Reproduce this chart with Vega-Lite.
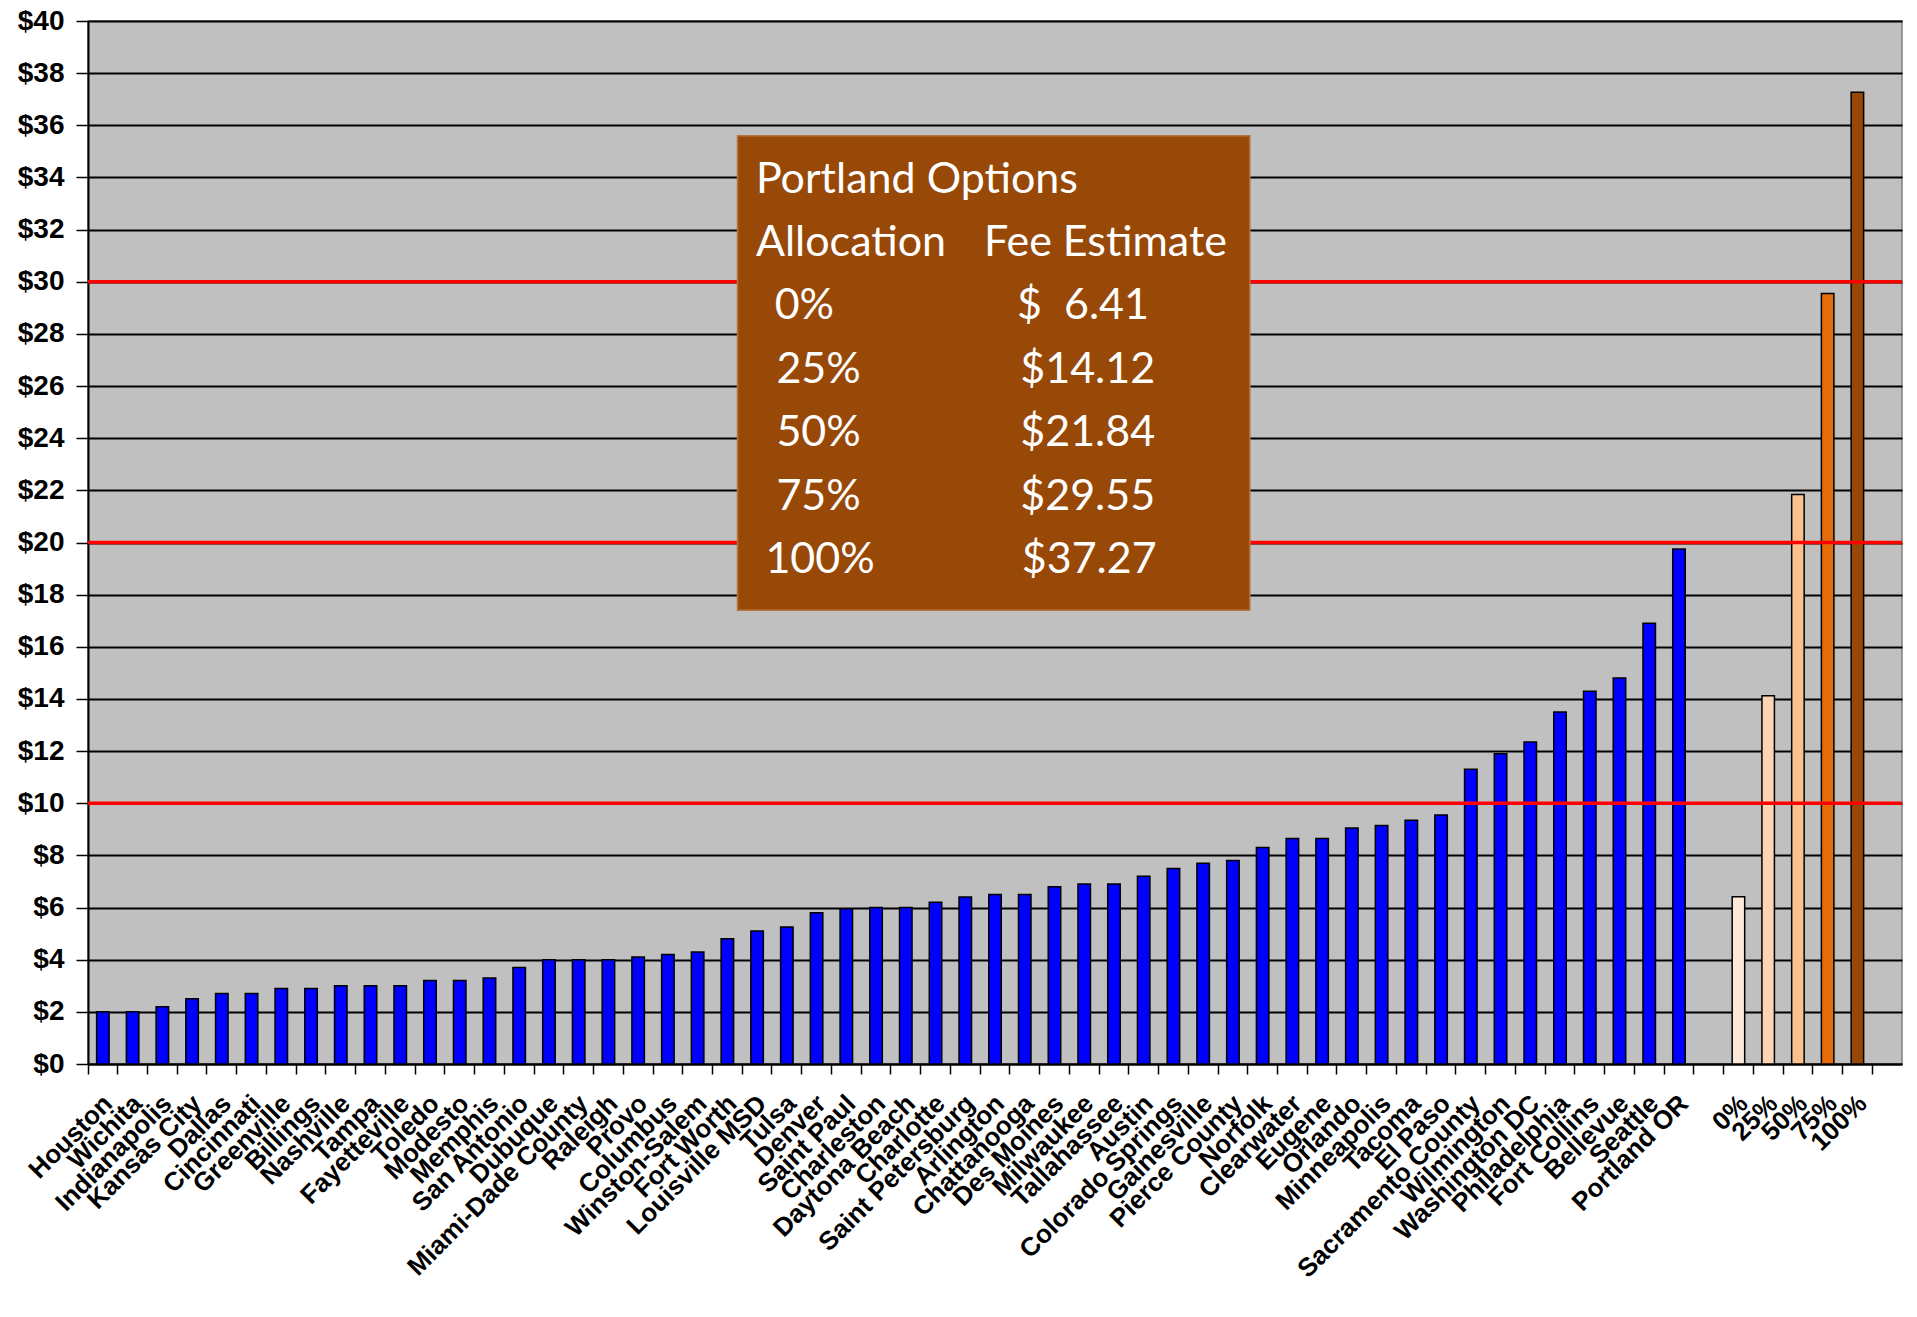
{
  "$schema": "https://vega.github.io/schema/vega-lite/v6.json",
  "width": 1814,
  "height": 1043,
  "autosize": {"type": "none"},
  "padding": {"left": 88, "top": 21, "right": 15, "bottom": 253},
  "background": "white",
  "config": {"view": {"fill": "#C0C0C0", "stroke": "#808080", "strokeWidth": 1.5}},
  "datasets": {
    "fees": [
      {"place": "Houston", "fee": 2.0, "series": "City"},
      {"place": "Wichita", "fee": 2.0, "series": "City"},
      {"place": "Indianapolis", "fee": 2.2, "series": "City"},
      {"place": "Kansas City", "fee": 2.5, "series": "City"},
      {"place": "Dallas", "fee": 2.7, "series": "City"},
      {"place": "Cincinnati", "fee": 2.7, "series": "City"},
      {"place": "Greenville", "fee": 2.9, "series": "City"},
      {"place": "Billings", "fee": 2.9, "series": "City"},
      {"place": "Nashville", "fee": 3.0, "series": "City"},
      {"place": "Tampa", "fee": 3.0, "series": "City"},
      {"place": "Fayetteville", "fee": 3.0, "series": "City"},
      {"place": "Toledo", "fee": 3.2, "series": "City"},
      {"place": "Modesto", "fee": 3.2, "series": "City"},
      {"place": "Memphis", "fee": 3.3, "series": "City"},
      {"place": "San Antonio", "fee": 3.7, "series": "City"},
      {"place": "Dubuque", "fee": 4.0, "series": "City"},
      {"place": "Miami-Dade County", "fee": 4.0, "series": "City"},
      {"place": "Raleigh", "fee": 4.0, "series": "City"},
      {"place": "Provo", "fee": 4.1, "series": "City"},
      {"place": "Columbus", "fee": 4.2, "series": "City"},
      {"place": "Winston-Salem", "fee": 4.3, "series": "City"},
      {"place": "Fort Worth", "fee": 4.8, "series": "City"},
      {"place": "Louisville MSD", "fee": 5.1, "series": "City"},
      {"place": "Tulsa", "fee": 5.25, "series": "City"},
      {"place": "Denver", "fee": 5.8, "series": "City"},
      {"place": "Saint Paul", "fee": 5.95, "series": "City"},
      {"place": "Charleston", "fee": 6.0, "series": "City"},
      {"place": "Daytona Beach", "fee": 6.0, "series": "City"},
      {"place": "Charlotte", "fee": 6.2, "series": "City"},
      {"place": "Saint Petersburg", "fee": 6.4, "series": "City"},
      {"place": "Arlington", "fee": 6.5, "series": "City"},
      {"place": "Chattanooga", "fee": 6.5, "series": "City"},
      {"place": "Des Moines", "fee": 6.8, "series": "City"},
      {"place": "Milwaukee", "fee": 6.9, "series": "City"},
      {"place": "Tallahassee", "fee": 6.9, "series": "City"},
      {"place": "Austin", "fee": 7.2, "series": "City"},
      {"place": "Colorado Springs", "fee": 7.5, "series": "City"},
      {"place": "Gainesville", "fee": 7.7, "series": "City"},
      {"place": "Pierce County", "fee": 7.8, "series": "City"},
      {"place": "Norfolk", "fee": 8.3, "series": "City"},
      {"place": "Clearwater", "fee": 8.65, "series": "City"},
      {"place": "Eugene", "fee": 8.65, "series": "City"},
      {"place": "Orlando", "fee": 9.05, "series": "City"},
      {"place": "Minneapolis", "fee": 9.15, "series": "City"},
      {"place": "Tacoma", "fee": 9.35, "series": "City"},
      {"place": "El Paso", "fee": 9.55, "series": "City"},
      {"place": "Sacramento County", "fee": 11.3, "series": "City"},
      {"place": "Wilmington", "fee": 11.9, "series": "City"},
      {"place": "Washington DC", "fee": 12.35, "series": "City"},
      {"place": "Philadelphia", "fee": 13.5, "series": "City"},
      {"place": "Fort Collins", "fee": 14.3, "series": "City"},
      {"place": "Bellevue", "fee": 14.8, "series": "City"},
      {"place": "Seattle", "fee": 16.9, "series": "City"},
      {"place": "Portland OR", "fee": 19.75, "series": "City"},
      {"place": "0%", "fee": 6.41, "series": "0%"},
      {"place": "25%", "fee": 14.12, "series": "25%"},
      {"place": "50%", "fee": 21.84, "series": "50%"},
      {"place": "75%", "fee": 29.55, "series": "75%"},
      {"place": "100%", "fee": 37.27, "series": "100%"}
    ],
    "thresholds": [{"level": 10}, {"level": 20}, {"level": 30}],
    "box": [{"x0": 21.84, "x1": 39.07, "y0": 17.4, "y1": 35.6}],
    "boxText": [
      {"label": "Portland Options", "x": 22.46, "y": 33.9},
      {"label": "Allocation", "x": 22.46, "y": 31.47},
      {"label": "Fee Estimate", "x": 30.13, "y": 31.47},
      {"label": "0%", "x": 23.09, "y": 29.07},
      {"label": "$\u00a0\u00a06.41", "x": 31.24, "y": 29.07},
      {"label": "25%", "x": 23.15, "y": 26.63},
      {"label": "$14.12", "x": 31.35, "y": 26.63},
      {"label": "50%", "x": 23.15, "y": 24.2},
      {"label": "$21.84", "x": 31.35, "y": 24.2},
      {"label": "75%", "x": 23.15, "y": 21.76},
      {"label": "$29.55", "x": 31.35, "y": 21.76},
      {"label": "100%", "x": 22.78, "y": 19.32},
      {"label": "$37.27", "x": 31.4, "y": 19.32}
    ]
  },
  "layer": [
    {
      "data": {"name": "fees"},
      "mark": {"type": "bar", "stroke": "black", "strokeWidth": 1.5},
      "encoding": {
        "x": {
          "field": "place",
          "type": "nominal",
          "sort": null,
          "scale": {
            "domain": ["Houston", "Wichita", "Indianapolis", "Kansas City", "Dallas", "Cincinnati", "Greenville", "Billings", "Nashville", "Tampa", "Fayetteville", "Toledo", "Modesto", "Memphis", "San Antonio", "Dubuque", "Miami-Dade County", "Raleigh", "Provo", "Columbus", "Winston-Salem", "Fort Worth", "Louisville MSD", "Tulsa", "Denver", "Saint Paul", "Charleston", "Daytona Beach", "Charlotte", "Saint Petersburg", "Arlington", "Chattanooga", "Des Moines", "Milwaukee", "Tallahassee", "Austin", "Colorado Springs", "Gainesville", "Pierce County", "Norfolk", "Clearwater", "Eugene", "Orlando", "Minneapolis", "Tacoma", "El Paso", "Sacramento County", "Wilmington", "Washington DC", "Philadelphia", "Fort Collins", "Bellevue", "Seattle", "Portland OR", " ", "0%", "25%", "50%", "75%", "100%", "  "],
            "paddingInner": 0.58,
            "paddingOuter": 0.29
          },
          "axis": {
            "title": null,
            "labelAngle": -45,
            "labelFont": "Liberation Sans",
            "labelFontWeight": "bold",
            "labelFontSize": 26,
            "labelColor": "black",
            "labelPadding": 16,
            "labelOffset": -4,
            "labelLimit": 0,
            "labelOverlap": false,
            "labelBound": false,
            "domainColor": "black",
            "domainWidth": 2,
            "tickColor": "black",
            "tickWidth": 1.5,
            "tickSize": 10,
            "bandPosition": -0.69,
            "grid": false
          }
        },
        "y": {
          "field": "fee",
          "type": "quantitative",
          "scale": {"domain": [0, 40], "nice": false},
          "axis": {
            "title": null,
            "values": [0, 2, 4, 6, 8, 10, 12, 14, 16, 18, 20, 22, 24, 26, 28, 30, 32, 34, 36, 38, 40],
            "labelExpr": "'$' + datum.value",
            "labelFont": "Liberation Sans",
            "labelFontWeight": "bold",
            "labelFontSize": 28,
            "labelColor": "black",
            "labelPadding": 12,
            "domainColor": "black",
            "domainWidth": 2,
            "tickColor": "black",
            "tickWidth": 1.5,
            "tickSize": 12,
            "grid": true,
            "gridColor": "black",
            "gridWidth": 2,
            "gridOpacity": 1
          }
        },
        "color": {
          "field": "series",
          "type": "nominal",
          "scale": {
            "domain": ["City", "0%", "25%", "50%", "75%", "100%"],
            "range": ["#0000FF", "#FDE9D9", "#FCD5B4", "#FAC08F", "#E46C0A", "#974806"]
          },
          "legend": null
        }
      }
    },
    {
      "data": {"name": "thresholds"},
      "mark": {"type": "rule", "color": "#FF0000", "strokeWidth": 3.5},
      "encoding": {"y": {"field": "level", "type": "quantitative", "title": null}}
    },
    {
      "layer": [
        {
          "data": {"name": "box"},
          "mark": {"type": "rect", "fill": "#984807", "stroke": "#B5763F", "strokeWidth": 1.5},
          "encoding": {
            "x": {"field": "x0", "type": "quantitative", "scale": {"domain": [0, 61], "nice": false, "zero": false}, "axis": null},
            "x2": {"field": "x1"},
            "y": {"field": "y0", "type": "quantitative", "title": null},
            "y2": {"field": "y1"}
          }
        },
        {
          "data": {"name": "boxText"},
          "mark": {"type": "text", "font": "Lato", "fontSize": 43, "color": "white", "align": "left", "baseline": "middle"},
          "encoding": {
            "x": {"field": "x", "type": "quantitative", "axis": null},
            "y": {"field": "y", "type": "quantitative", "title": null},
            "text": {"field": "label"}
          }
        }
      ]
    }
  ],
  "resolve": {"scale": {"x": "independent"}, "axis": {"x": "independent"}}
}
